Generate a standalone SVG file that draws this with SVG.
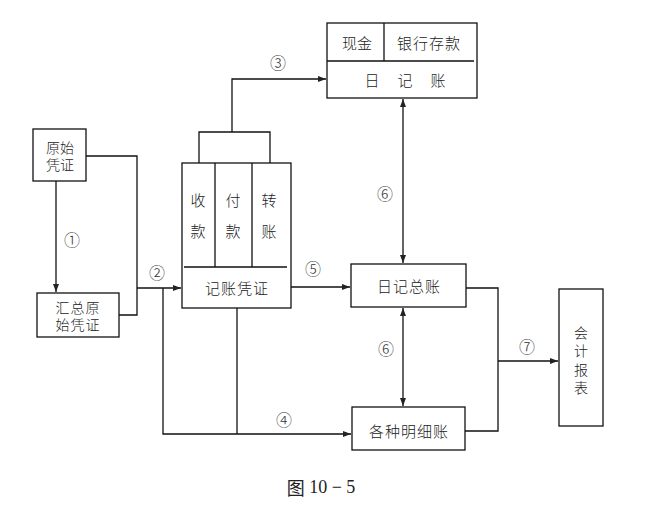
<svg xmlns="http://www.w3.org/2000/svg" width="666" height="510" viewBox="0 0 666 510">
<defs>
<marker id="ah" markerWidth="8" markerHeight="6" refX="8" refY="3" orient="auto-start-reverse" markerUnits="userSpaceOnUse">
<path d="M0,0 L8,3 L0,6 z" fill="#222"/>
</marker>
<style>
.box{fill:#fff;stroke:#111;stroke-width:1.3}
.ln{fill:none;stroke:#111;stroke-width:1.3}
.t{font-family:"Noto Sans CJK SC","Noto Sans",sans-serif;font-size:15px;font-weight:300;fill:#222;text-anchor:middle;dominant-baseline:central}
.s{font-size:14px}
.n{font-family:"Noto Sans CJK SC","DejaVu Sans",sans-serif;font-size:16px;font-weight:300;fill:#333;text-anchor:middle;dominant-baseline:central}
.cap{font-family:"Liberation Serif","Noto Sans CJK SC",serif;font-size:18px;fill:#222;text-anchor:middle;dominant-baseline:central}
</style>
</defs>
<rect width="666" height="510" fill="#fff"/>
<g id="connectors">
<path class="ln" d="M56,181 V292" marker-end="url(#ah)"/>
<path class="ln" d="M86,156 H137 V315 H119"/>
<path class="ln" d="M137,288 H181" marker-end="url(#ah)"/>
<path class="ln" d="M163,288 V434 H351" marker-end="url(#ah)"/>
<path class="ln" d="M237,308 V434"/>
<path class="ln" d="M199,163 V132 H270 V163"/>
<path class="ln" d="M232,132 V79 H326" marker-end="url(#ah)"/>
<path class="ln" d="M291,287 H350" marker-end="url(#ah)"/>
<path class="ln" d="M403,99 V263" marker-start="url(#ah)" marker-end="url(#ah)"/>
<path class="ln" d="M403,308 V406" marker-start="url(#ah)" marker-end="url(#ah)"/>
<path class="ln" d="M466,288 H498 V431 H465"/>
<path class="ln" d="M498,361 H558" marker-end="url(#ah)"/>
<text class="n" x="72" y="239">①</text>
<text class="n" x="157" y="272">②</text>
<text class="n" x="278" y="62">③</text>
<text class="n" x="284" y="419">④</text>
<text class="n" x="313" y="268">⑤</text>
<text class="n" x="385" y="193">⑥</text>
<text class="n" x="386" y="348">⑥</text>
<text class="n" x="527" y="346">⑦</text>
</g>
<g id="yuanshi">
<rect class="box" x="33" y="129" width="53" height="52"/>
<text class="t s" x="60" y="147">原始</text>
<text class="t s" x="60" y="164">凭证</text>
</g>
<g id="huizong">
<rect class="box" x="37" y="293" width="82" height="44"/>
<text class="t s" x="78" y="307" letter-spacing="1">汇总原</text>
<text class="t s" x="78" y="324" letter-spacing="1">始凭证</text>
</g>
<g id="jizhang">
<rect class="box" x="182" y="163" width="109" height="145"/>
<path class="ln" d="M184,267 H287 M215,163 V267 M252,163 V267"/>
<text class="t" x="198" y="199">收</text>
<text class="t" x="198" y="230">款</text>
<text class="t" x="233" y="199">付</text>
<text class="t" x="233" y="230">款</text>
<text class="t" x="269" y="199">转</text>
<text class="t" x="269" y="230">账</text>
<text class="t" x="237" y="287" letter-spacing="1">记账凭证</text>
</g>
<g id="rijizhang">
<rect class="box" x="327" y="23" width="150" height="75"/>
<path class="ln" d="M327,61 H474 M384,23 V61"/>
<text class="t" x="357" y="42">现金</text>
<text class="t" x="429" y="42" letter-spacing="1">银行存款</text>
<text class="t" x="372" y="79">日</text>
<text class="t" x="405" y="79">记</text>
<text class="t" x="438" y="79">账</text>
</g>
<g id="zongzhang">
<rect class="box" x="351" y="264" width="115" height="43"/>
<text class="t" x="409" y="285" letter-spacing="1">日记总账</text>
</g>
<g id="mingxi">
<rect class="box" x="352" y="407" width="113" height="43"/>
<text class="t" x="409" y="430" letter-spacing="1">各种明细账</text>
</g>
<g id="baobiao">
<rect class="box" x="559" y="289" width="44" height="137"/>
<text class="t s" x="581" y="332">会</text>
<text class="t s" x="581" y="350">计</text>
<text class="t s" x="581" y="369">报</text>
<text class="t s" x="581" y="387">表</text>
</g>
<g id="caption">
<text class="cap" x="321" y="487"><tspan font-family="Noto Sans CJK SC">图</tspan> 10 − 5</text>
</g>
</svg>
